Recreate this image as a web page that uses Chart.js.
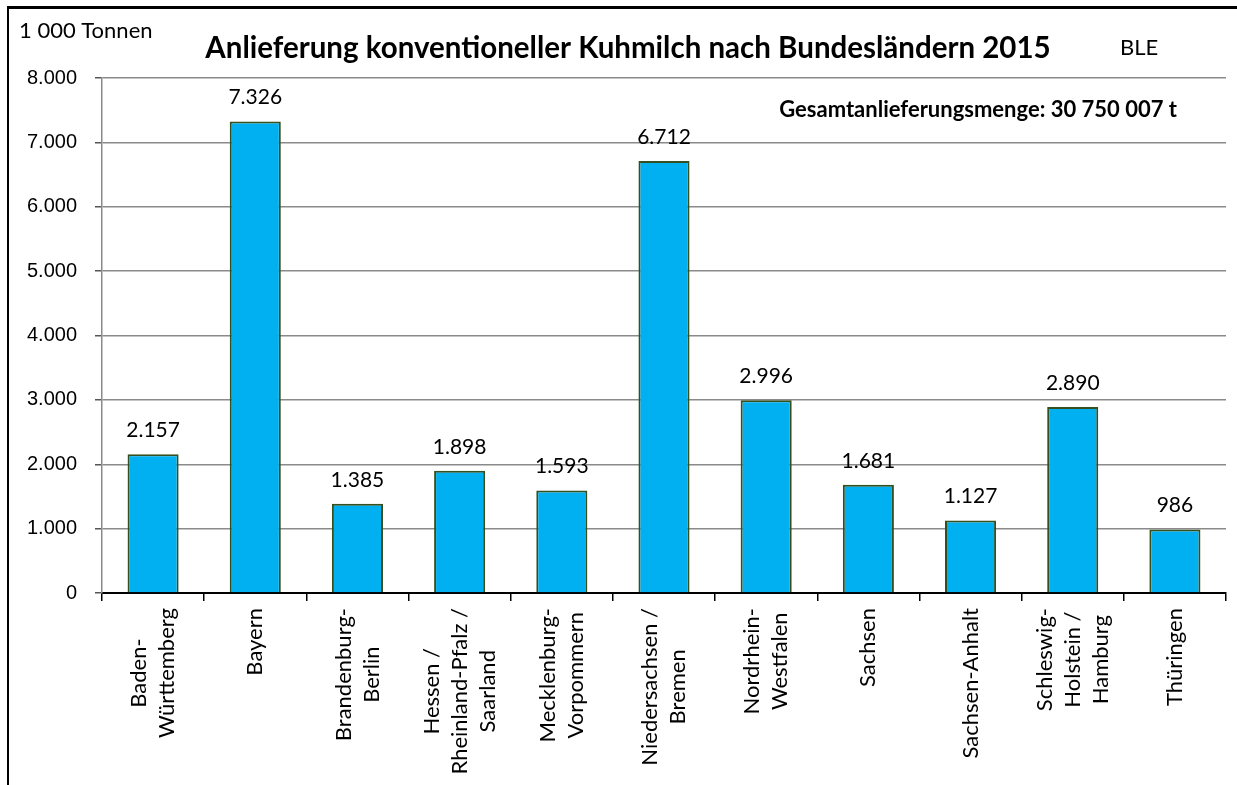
<!DOCTYPE html>
<html>
<head>
<meta charset="utf-8">
<style>
  body { margin: 0; background: #fff; }
  #wrap { position: relative; width: 1237px; height: 785px; overflow: hidden; }
  #frame { position: absolute; left: 7px; top: 6px; width: 1300px; height: 900px;
           border-top: 3px solid #000; border-left: 2px solid #000; }
  canvas { position: absolute; left: 0; top: 0; }
</style>
</head>
<body>
<div id="wrap">
  <canvas id="milkChart" width="1237" height="785"></canvas>
  <div id="frame"></div>
</div>
<script src="https://cdn.jsdelivr.net/npm/chart.js"></script>
<script>
    // Bundesländer (Zeilen der Achsenbeschriftung)
    const categories = [
        ['Baden-', 'Württemberg'],
        ['Bayern'],
        ['Brandenburg-', 'Berlin'],
        ['Hessen /', 'Rheinland-Pfalz /', 'Saarland'],
        ['Mecklenburg-', 'Vorpommern'],
        ['Niedersachsen /', 'Bremen'],
        ['Nordrhein-', 'Westfalen'],
        ['Sachsen'],
        ['Sachsen-Anhalt'],
        ['Schleswig-', 'Holstein /', 'Hamburg'],
        ['Thüringen']
    ];
    // Anlieferung in 1 000 Tonnen
    const deliveries = [2157, 7326, 1385, 1898, 1593, 6712, 2996, 1681, 1127, 2890, 986];
    const yMin = 0;
    const yMax = 8000;
    const yStep = 1000;

    const titleText = 'Anlieferung konventioneller Kuhmilch nach Bundesländern 2015';
    const unitText = '1 000 Tonnen';
    const sourceText = 'BLE';
    const totalText = 'Gesamtanlieferungsmenge: 30 750 007 t';

    // 8000 -> "8.000"
    function fmt(v) {
        return String(v).replace(/\B(?=(\d{3})+(?!\d))/g, '.');
    }

    // Werte über den Balken
    const valueLabels = {
        id: 'valueLabels',
        afterDatasetsDraw(chart) {
            const ctx = chart.ctx;
            const meta = chart.getDatasetMeta(0);
            ctx.save();
            ctx.font = '21px Lato';
            ctx.fillStyle = '#000';
            ctx.textAlign = 'center';
            ctx.textBaseline = 'middle';
            meta.data.forEach((bar, i) => {
                ctx.fillText(fmt(deliveries[i]), bar.x, bar.y - 24);
            });
            ctx.restore();
        }
    };

    // gedrehte, zentrierte Kategorienamen + Titeltexte
    const extraText = {
        id: 'extraText',
        afterDraw(chart) {
            const ctx = chart.ctx;
            const xs = chart.scales.x;
            ctx.save();
            ctx.fillStyle = '#000';
            ctx.font = '22px Lato';
            ctx.textBaseline = 'middle';
            ctx.textAlign = 'center';
            categories.forEach((lines, i) => {
                const x = xs.getPixelForValue(i);
                const maxW = Math.max(...lines.map(l => ctx.measureText(l).width));
                lines.forEach((line, j) => {
                    const off = (j - (lines.length - 1) / 2) * 28;
                    ctx.save();
                    ctx.translate(x + off, xs.top + 15 + maxW / 2);
                    ctx.rotate(-Math.PI / 2);
                    ctx.fillText(line, 0, 0);
                    ctx.restore();
                });
            });

            ctx.textAlign = 'left';
            ctx.font = '22px Lato';
            ctx.fillText(unitText, 19, 31);

            ctx.font = 'bold 29.5px Lato';
            ctx.textAlign = 'center';
            ctx.fillText(titleText, 628, 48);

            ctx.font = '22px Lato';
            ctx.textAlign = 'left';
            ctx.fillText(sourceText, 1120, 48);

            ctx.font = 'bold 22px Lato';
            ctx.textAlign = 'right';
            ctx.fillText(totalText, 1177, 110);
            ctx.restore();
        }
    };

    const chart = new Chart(document.getElementById('milkChart').getContext('2d'), {
        type: 'bar',
        data: {
            labels: categories.map(l => l.join(' ')),
            datasets: [{
                data: deliveries,
                backgroundColor: '#00B0F0',
                borderColor: '#34501F',
                borderWidth: 2,
                barPercentage: 0.5,
                categoryPercentage: 1.0
            }]
        },
        options: {
            responsive: false,
            animation: false,
            layout: { padding: { top: 78, right: 11, left: 0, bottom: 0 } },
            plugins: {
                legend: { display: false },
                tooltip: { enabled: false }
            },
            scales: {
                x: {
                    afterFit(scale) { scale.height = 192; },
                    ticks: { display: false },
                    grid: {
                        display: true,
                        drawOnChartArea: false,
                        drawTicks: true,
                        tickLength: 8,
                        color: '#000',
                        lineWidth: 1.5,
                        offset: true
                    },
                    border: { color: '#000', width: 2 }
                },
                y: {
                    min: yMin,
                    max: yMax,
                    afterFit(scale) { scale.width = 102; },
                    ticks: {
                        stepSize: yStep,
                        padding: 18,
                        color: '#000',
                        font: { family: 'Liberation Sans', size: 20 },
                        callback: v => fmt(v)
                    },
                    grid: {
                        color: '#8a8a8a',
                        lineWidth: 1.5,
                        tickLength: 7,
                        tickColor: '#555'
                    },
                    border: { color: '#8a8a8a', width: 1.5 }
                }
            }
        },
        plugins: [valueLabels, extraText]
    });
</script>
</body>
</html>
